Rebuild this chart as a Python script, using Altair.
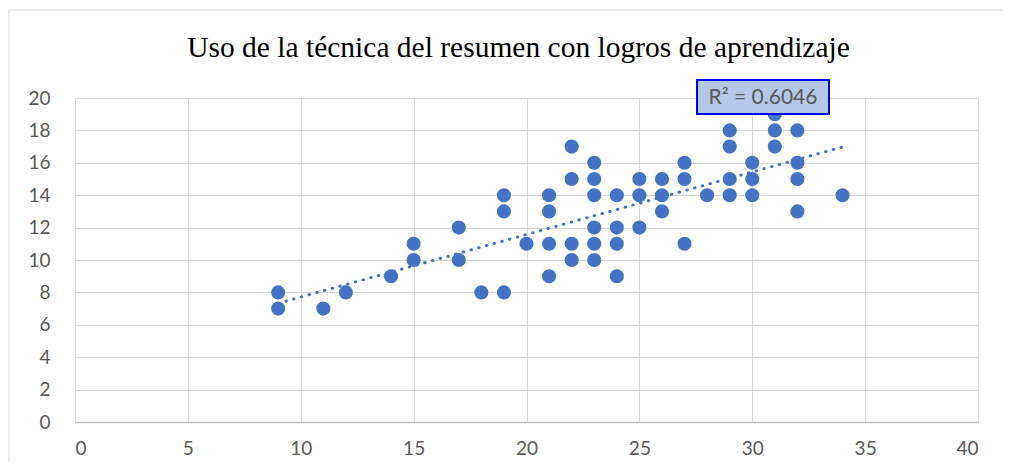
import altair as alt
import pandas as pd

# Scatter data (x: uso de la técnica, y: logros)
xs = [9, 9, 11, 12, 14, 15, 15, 17, 17, 18,
      19, 19, 19, 20, 21, 21, 21, 21, 22, 22, 22, 22,
      23, 23, 23, 23, 23, 23, 24, 24, 24, 24,
      25, 25, 25, 26, 26, 26, 27, 27, 27, 28,
      29, 29, 29, 29, 30, 30, 30, 31, 31, 31,
      32, 32, 32, 32, 34]
ys = [8, 7, 7, 8, 9, 11, 10, 12, 10, 8,
      14, 13, 8, 11, 14, 13, 11, 9, 17, 15, 11, 10,
      16, 15, 14, 12, 11, 10, 14, 12, 11, 9,
      15, 14, 12, 15, 14, 13, 16, 15, 11, 14,
      18, 17, 15, 14, 16, 15, 14, 19, 18, 17,
      18, 16, 15, 13, 14]

title_text = "Uso de la técnica del resumen con logros de aprendizaje"
r2_label = "R² = 0.6046"
x_ticks = [0, 5, 10, 15, 20, 25, 30, 35, 40]
y_ticks = [0, 2, 4, 6, 8, 10, 12, 14, 16, 18, 20]

df = pd.DataFrame({"x": xs, "y": ys})

W, H = 903, 324
BLUE = "#4472C4"
LABEL_FONT = "Lato"
GRAY = "#595959"

xscale = alt.Scale(domain=[0, 40], nice=False, zero=True)
yscale = alt.Scale(domain=[0, 20], nice=False, zero=True)

x_axis = alt.Axis(values=x_ticks, title=None, grid=True,
                  gridColor="#d9d9d9", domain=True, domainColor="#bfbfbf",
                  domainWidth=1.5, ticks=False, labelFont=LABEL_FONT,
                  labelFontSize=19, labelColor=GRAY, labelPadding=17,
                  labelOverlap=False)
y_axis = alt.Axis(values=y_ticks, title=None, grid=True,
                  gridColor="#d9d9d9", domain=False, ticks=False,
                  labelFont=LABEL_FONT, labelFontSize=19,
                  labelColor=GRAY, labelPadding=25, labelOverlap=False)

base = alt.Chart(df)

frame = alt.Chart(pd.DataFrame({"k": [0]})).mark_rect(
    fill="transparent", stroke="#d9d9d9", strokeWidth=1
).encode(
    x=alt.value(-66), x2=alt.value(W + 56),
    y=alt.value(-88), y2=alt.value(H + 60),
)

points = base.mark_circle(size=200, color=BLUE, opacity=1).encode(
    x=alt.X("x:Q", scale=xscale, axis=x_axis),
    y=alt.Y("y:Q", scale=yscale, axis=y_axis),
)

trend = base.transform_regression("x", "y", extent=[9, 34]).mark_line(
    color=BLUE, strokeWidth=3, strokeDash=[0.5, 7.5], strokeCap="round"
).encode(x=alt.X("x:Q", scale=xscale, axis=x_axis),
         y=alt.Y("y:Q", scale=yscale, axis=y_axis))

label_df = pd.DataFrame({"t": [r2_label]})
box = alt.Chart(label_df).mark_rect(
    fill="#B4C7E7", stroke="#0000FF", strokeWidth=2
).encode(
    x=alt.value(622), x2=alt.value(754), y=alt.value(-18), y2=alt.value(16)
)
txt = alt.Chart(label_df).mark_text(
    font=LABEL_FONT, fontSize=21, color=GRAY, align="center", baseline="middle"
).encode(text="t:N", x=alt.value(688), y=alt.value(0))

chart = alt.layer(frame, points, trend, box, txt).properties(
    width=W, height=H,
    title=alt.TitleParams(title_text, font="Liberation Serif", fontSize=29.5,
                          fontWeight="normal", color="black", anchor="middle",
                          frame="group", offset=-54, dx=-8),
    autosize=alt.AutoSizeParams(type="none"),
    padding={"left": 67, "top": 90, "right": 25, "bottom": 40},
).configure_view(stroke=None).configure(background="white")

chart.save("out.html", embed_options={"renderer": "svg", "actions": False})
